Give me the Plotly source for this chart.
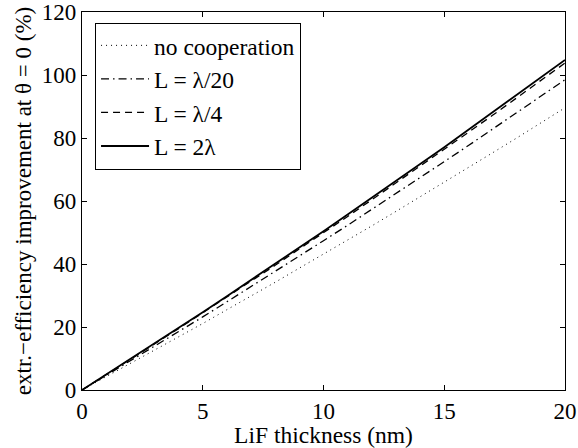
import plotly.graph_objects as go

thickness = list(range(0, 21))
no_coop = [0, 4.2, 8.4, 12.6, 16.8, 21.1, 25.5, 29.8, 34.2, 38.7, 43.1, 47.6, 52.1, 56.7, 61.3, 65.9, 70.6, 75.3, 80.0, 84.8, 89.6]
l_20 = [0, 4.6, 9.2, 13.8, 18.5, 23.2, 28.0, 32.8, 37.6, 42.5, 47.4, 52.3, 57.3, 62.3, 67.4, 72.5, 77.6, 82.8, 88.0, 93.2, 98.5]
l_4 = [0, 4.8, 9.7, 14.6, 19.5, 24.5, 29.5, 34.5, 39.6, 44.8, 49.9, 55.1, 60.4, 65.7, 71.0, 76.4, 81.8, 87.2, 92.7, 98.2, 103.8]
l_2 = [0, 4.9, 9.8, 14.7, 19.7, 24.7, 29.8, 34.9, 40.0, 45.2, 50.4, 55.7, 61.0, 66.3, 71.7, 77.1, 82.6, 88.1, 93.6, 99.2, 104.8]

series = [
    ("no cooperation", no_coop, "1px,4px", 1.0),
    ("L = λ/20", l_20, "8px,4px,1.5px,4px", 1.3),
    ("L = λ/4", l_4, "7px,5px", 1.3),
    ("L = 2λ", l_2, "solid", 1.8),
]

fig = go.Figure()
for name, ys, dash, w in series:
    fig.add_trace(go.Scatter(x=thickness, y=ys, mode="lines", name=name,
                             line=dict(color="black", dash=dash, width=w)))

font = "Times New Roman, Liberation Serif, DejaVu Serif, serif"
axis_common = dict(showline=True, linecolor="black", linewidth=1.2, mirror="ticks",
                   ticks="inside", ticklen=5, tickcolor="black", showgrid=False,
                   zeroline=False, automargin=False, ticklabeloverflow="allow",
                   tickfont=dict(family=font, size=23, color="black"))
fig.update_layout(
    width=578, height=448,
    margin=dict(l=82, r=13, t=12, b=58),
    plot_bgcolor="white", paper_bgcolor="white",
    font=dict(family=font, color="black"),
    xaxis=dict(range=[0, 20], tickvals=[0, 5, 10, 15, 20],
               title=dict(text="LiF thickness (nm)", font=dict(family=font, size=23.5), standoff=0),
               **axis_common),
    yaxis=dict(range=[0, 120], tickvals=[0, 20, 40, 60, 80, 100, 120],
               title=dict(text="extr.−efficiency improvement at θ = 0 (%)", font=dict(family=font, size=23), standoff=3),
               **axis_common),
    legend=dict(x=0.027, y=0.972, xanchor="left", yanchor="top",
                bordercolor="black", borderwidth=1, bgcolor="white",
                font=dict(family=font, size=23.5, color="black"),
                itemwidth=48),
    showlegend=True,
)

fig.write_html("out.html")
